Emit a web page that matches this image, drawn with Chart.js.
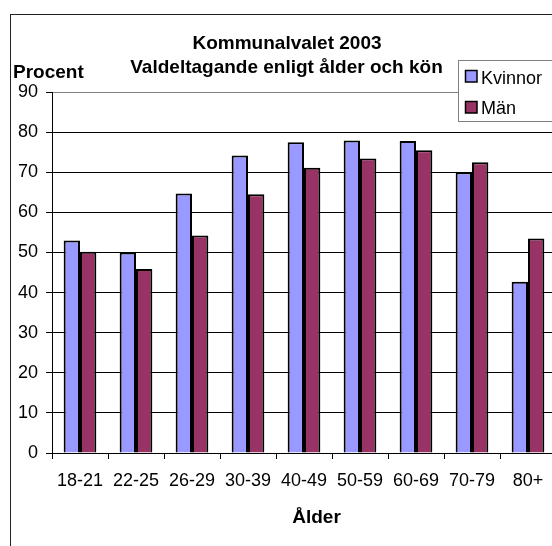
<!DOCTYPE html>
<html>
<head>
<meta charset="utf-8">
<script src="https://cdn.jsdelivr.net/npm/chart.js@4/dist/chart.umd.min.js"></script>
<style>
  html, body { margin: 0; padding: 0; background: #fff; overflow: hidden; width: 552px; height: 546px; }
  #frame { position: absolute; left: 10px; top: 14px; width: 700px; height: 700px; border: 1px solid #222; box-sizing: border-box; }
  #wrap { position: absolute; left: 0; top: 0; width: 600px; height: 546px; }
</style>
</head>
<body>
<div id="frame"></div>
<div id="wrap"><canvas id="c" width="600" height="546"></canvas></div>
<script>
const categories = ['18-21', '22-25', '26-29', '30-39', '40-49', '50-59', '60-69', '70-79', '80+'];
const kvinnor = [53.0, 50.0, 64.7, 74.2, 77.5, 77.9, 77.8, 70.0, 42.7];
const man = [50.2, 45.9, 54.2, 64.5, 71.1, 73.4, 75.5, 72.5, 53.5];
const seriesNames = ['Kvinnor', 'Män'];
const titleLines = ['Kommunalvalet 2003', 'Valdeltagande enligt ålder och kön'];
const yAxisTitle = 'Procent';
const xAxisTitle = 'Ålder';
const yTicks = { min: 0, max: 90, step: 10 };

const FONT = '"Liberation Sans", Arial, sans-serif';

const decor = {
  id: 'decor',
  afterDraw(chart) {
    const ctx = chart.ctx;
    ctx.save();
    ctx.fillStyle = '#000';
    ctx.textAlign = 'center';
    ctx.textBaseline = 'alphabetic';
    ctx.font = 'bold 19px ' + FONT;
    ctx.fillText(titleLines[0], 287, 48.5);
    ctx.fillText(titleLines[1], 286.5, 73);
    ctx.fillText(xAxisTitle, 316.5, 523);
    ctx.textAlign = 'left';
    ctx.fillText(yAxisTitle, 13, 77.5);

    // legend
    ctx.fillStyle = '#fff';
    ctx.fillRect(458, 60, 140, 62);
    ctx.strokeStyle = '#808080';
    ctx.lineWidth = 1;
    ctx.strokeRect(458.5, 60.5, 140, 61);
    const ys = [70, 101];
    const bases = [83.5, 113.5];
    chart.data.datasets.forEach((ds, i) => {
      ctx.fillStyle = ds.backgroundColor;
      ctx.fillRect(465, ys[i], 12, 12);
      ctx.strokeStyle = '#000';
      ctx.lineWidth = 1.5;
      ctx.strokeRect(465.5, ys[i] + 0.5, 11.5, 11.5);
      ctx.fillStyle = '#000';
      ctx.font = '18px ' + FONT;
      ctx.textAlign = 'left';
      ctx.fillText(ds.label, 481, bases[i]);
    });
    ctx.restore();
  }
};

new Chart(document.getElementById('c'), {
  type: 'bar',
  data: {
    labels: categories,
    datasets: [
      { label: seriesNames[0], data: kvinnor, backgroundColor: '#9999FF', borderColor: '#000', borderWidth: 2, borderSkipped: 'bottom' },
      { label: seriesNames[1], data: man, backgroundColor: '#993366', borderColor: '#000', borderWidth: 2, borderSkipped: 'bottom' }
    ]
  },
  options: {
    responsive: false,
    devicePixelRatio: 1,
    animation: false,
    layout: { padding: { top: 92, left: 0, right: 44, bottom: 0 } },
    plugins: { legend: { display: false }, title: { display: false }, tooltip: { enabled: false } },
    datasets: { bar: { categoryPercentage: 0.584, barPercentage: 1.0 } },
    scales: {
      x: {
        grid: { display: true, drawOnChartArea: false, drawTicks: true, tickLength: 6, color: '#000', offset: true },
        border: { display: true, color: '#000', width: 1 },
        ticks: { color: '#000', font: { family: FONT, size: 18 }, padding: 11, maxRotation: 0, autoSkip: false },
        title: { display: false, text: xAxisTitle },
        afterFit(scale) { scale.height = 93; }
      },
      y: {
        min: yTicks.min, max: yTicks.max,
        ticks: { stepSize: yTicks.step, color: '#000', font: { family: FONT, size: 18 }, padding: 8 },
        grid: {
          color: (c) => (c.tick && c.tick.value === yTicks.max) ? '#808080' : '#000',
          tickColor: '#000',
          tickLength: 6,
          lineWidth: 1
        },
        border: { display: true, color: '#000', width: 1 },
        afterFit(scale) { scale.width = 52; }
      }
    }
  },
  plugins: [decor]
});
</script>
</body>
</html>
